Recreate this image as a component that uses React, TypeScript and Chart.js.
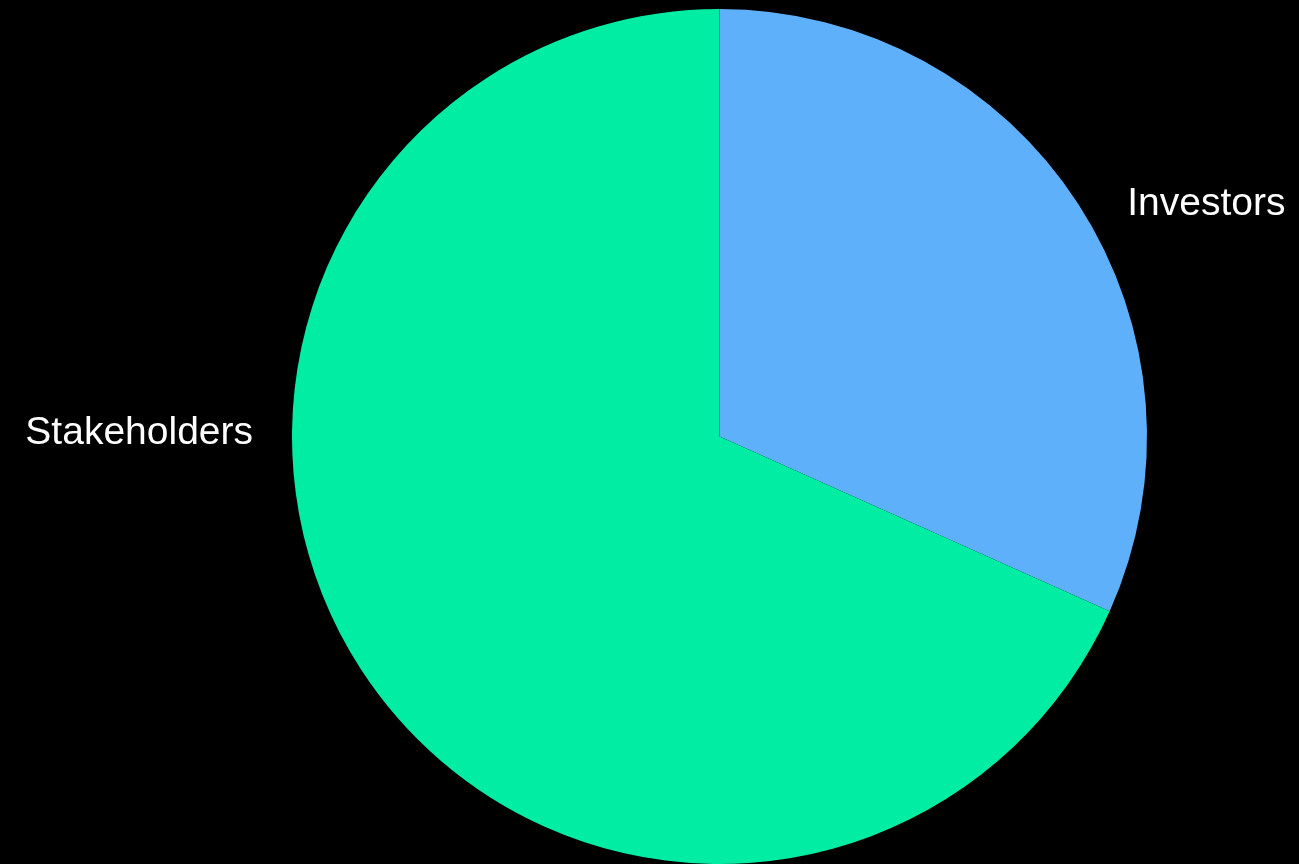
import React, { useEffect, useRef } from "react";
import { Chart, registerables } from "chart.js";

Chart.register(...registerables);

const labels = ["Investors", "Stakeholders"];
const values = [31.7, 68.3];
const colors = ["#5FB0FA", "#00EDA3"];

const labelPlugin = {
  id: "outsideLabels",
  afterDraw(chart: any) {
    const meta = chart.getDatasetMeta(0);
    const ctx = chart.ctx;
    ctx.save();
    ctx.fillStyle = "#ffffff";
    ctx.font = "39px 'Liberation Sans', Arial, sans-serif";
    ctx.textBaseline = "middle";
    meta.data.forEach((arc: any, i: number) => {
      const { x, y, startAngle, endAngle, outerRadius } = arc.getProps(
        ["x", "y", "startAngle", "endAngle", "outerRadius"],
        true
      );
      const mid = (startAngle + endAngle) / 2;
      if (i === 0) {
        ctx.textAlign = "left";
        ctx.fillText(
          labels[i],
          x + outerRadius * Math.cos(mid) + 49,
          y + outerRadius * Math.sin(mid)
        );
      } else {
        ctx.textAlign = "right";
        ctx.fillText(labels[i], x - outerRadius - 39, y - 3);
      }
    });
    ctx.restore();
  },
};

export default function App() {
  const ref = useRef<HTMLCanvasElement>(null);
  useEffect(() => {
    document.body.style.margin = "0";
    document.body.style.background = "#000";
    const chart = new Chart(ref.current!, {
      type: "pie",
      data: {
        labels,
        datasets: [
          {
            data: values,
            backgroundColor: colors,
            borderWidth: 0,
          },
        ],
      },
      options: {
        animation: false,
        responsive: false,
        maintainAspectRatio: false,
        layout: { padding: { top: 9, bottom: 0, left: 140, right: 0 } },
        plugins: {
          legend: { display: false },
          tooltip: { enabled: false },
        },
      },
      plugins: [labelPlugin],
    });
    return () => chart.destroy();
  }, []);
  return (
    <div style={{ width: 1299, height: 864, background: "#000" }}>
      <canvas ref={ref} width={1299} height={864} style={{ display: "block" }} />
    </div>
  );
}
